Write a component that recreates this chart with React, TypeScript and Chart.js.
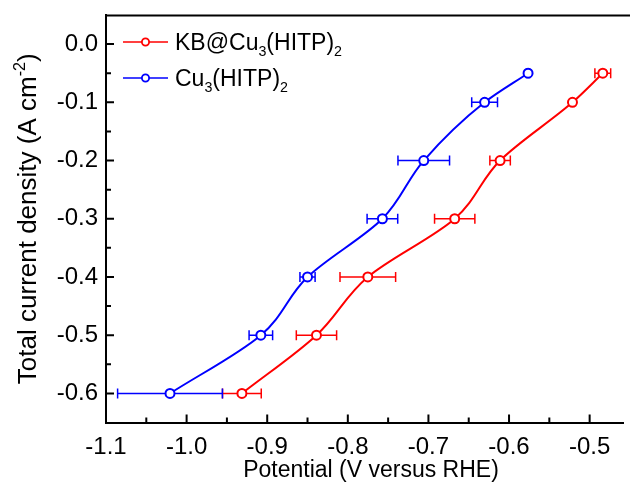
import React, { useEffect, useRef } from "react";
import { Chart, registerables } from "chart.js";

Chart.register(...registerables);

// ---- data ----
const currentDensity = [-0.05, -0.1, -0.2, -0.3, -0.4, -0.5, -0.6];
const kbPotential = [-0.4837, -0.5213, -0.6111, -0.6674, -0.7752, -0.8389, -0.9314];
const kbPotentialErr = [0.0098, 0, 0.0127, 0.025, 0.0345, 0.025, 0.024];
const cuPotential = [-0.5764, -0.6303, -0.7058, -0.7571, -0.85, -0.9079, -1.0206];
const cuPotentialErr = [0.002, 0.016, 0.032, 0.019, 0.0094, 0.0146, 0.065];

const xTickValues = [-1.1, -1.0, -0.9, -0.8, -0.7, -0.6, -0.5];
const xMinorTickValues = [-1.05, -0.95, -0.85, -0.75, -0.65, -0.55];
const yTickValues = [0.0, -0.1, -0.2, -0.3, -0.4, -0.5, -0.6];
const yMinorTickValues = [-0.05, -0.15, -0.25, -0.35, -0.45, -0.55];

const seriesNames = [
  [{ t: "KB@Cu" }, { t: "3", sub: true }, { t: "(HITP)" }, { t: "2", sub: true }],
  [{ t: "Cu" }, { t: "3", sub: true }, { t: "(HITP)" }, { t: "2", sub: true }],
];
const seriesColors = ["#ff0000", "#0000ff"];
const xTitle = [{ t: "Potential (V versus RHE)" }];
const yTitle = [{ t: "Total current density (A cm" }, { t: "-2", sup: true }, { t: ")" }];

const FONT = '"Liberation Sans", Arial, Helvetica, sans-serif';
const TICK_FS = 24;
const LEGEND_FS = 23;
const XTITLE_FS = 23;
const YTITLE_FS = 26;

type Part = { t: string; sub?: boolean; sup?: boolean };

function richWidth(ctx: CanvasRenderingContext2D, parts: Part[], size: number) {
  let w = 0;
  for (const p of parts) {
    const s = p.sub || p.sup ? size * 0.62 : size;
    ctx.font = `${s}px ${FONT}`;
    w += ctx.measureText(p.t).width;
  }
  return w;
}

function drawRich(ctx: CanvasRenderingContext2D, parts: Part[], x: number, y: number, size: number) {
  let cx = x;
  ctx.textBaseline = "alphabetic";
  ctx.textAlign = "left";
  for (const p of parts) {
    const s = p.sub || p.sup ? size * 0.62 : size;
    ctx.font = `${s}px ${FONT}`;
    const dy = p.sub ? size * 0.27 : p.sup ? -size * 0.42 : 0;
    ctx.fillText(p.t, cx, y + dy);
    cx += ctx.measureText(p.t).width;
  }
}

const decorPlugin = {
  id: "decor",
  beforeDatasetsDraw(chart: any) {
    const { ctx, scales } = chart;
    const xs = scales.x;
    const ys = scales.y;
    ctx.save();
    const sets = [
      { xv: kbPotential, err: kbPotentialErr, color: seriesColors[0] },
      { xv: cuPotential, err: cuPotentialErr, color: seriesColors[1] },
    ];
    for (const s of sets) {
      ctx.strokeStyle = s.color;
      ctx.lineWidth = 1.5;
      s.xv.forEach((xv, i) => {
        const e = s.err[i];
        if (!e) return;
        const py = ys.getPixelForValue(currentDensity[i]);
        const x1 = xs.getPixelForValue(xv - e);
        const x2 = xs.getPixelForValue(xv + e);
        ctx.beginPath();
        ctx.moveTo(x1, py);
        ctx.lineTo(x2, py);
        ctx.moveTo(x1, py - 5);
        ctx.lineTo(x1, py + 5);
        ctx.moveTo(x2, py - 5);
        ctx.lineTo(x2, py + 5);
        ctx.stroke();
      });
    }
    ctx.restore();
  },
  afterDraw(chart: any) {
    const { ctx, scales } = chart;
    const xs = scales.x;
    const ys = scales.y;
    const left = xs.left;
    const right = xs.right;
    const top = ys.top;
    const bottom = ys.bottom;
    ctx.save();
    // frame top line
    ctx.strokeStyle = "#000000";
    ctx.lineWidth = 2;
    ctx.beginPath();
    ctx.moveTo(left - 1, top + 0.5);
    ctx.lineTo(630, top + 0.5);
    ctx.stroke();
    // inward ticks
    ctx.beginPath();
    xTickValues.forEach((v) => {
      const px = xs.getPixelForValue(v);
      ctx.moveTo(px, bottom);
      ctx.lineTo(px, bottom - 8);
    });
    xMinorTickValues.forEach((v) => {
      const px = xs.getPixelForValue(v);
      ctx.moveTo(px, bottom);
      ctx.lineTo(px, bottom - 5);
    });
    yTickValues.forEach((v) => {
      const py = ys.getPixelForValue(v);
      ctx.moveTo(left, py);
      ctx.lineTo(left + 8, py);
    });
    yMinorTickValues.forEach((v) => {
      const py = ys.getPixelForValue(v);
      ctx.moveTo(left, py);
      ctx.lineTo(left + 5, py);
    });
    ctx.stroke();

    // legend
    const legendY = [42, 78];
    seriesNames.forEach((parts, i) => {
      const y = legendY[i];
      ctx.strokeStyle = seriesColors[i];
      ctx.lineWidth = 1.5;
      ctx.beginPath();
      ctx.moveTo(123, y);
      ctx.lineTo(168, y);
      ctx.stroke();
      ctx.beginPath();
      ctx.arc(145.5, y, 3.6, 0, Math.PI * 2);
      ctx.fillStyle = "#fff";
      ctx.fill();
      ctx.lineWidth = 1.8;
      ctx.stroke();
      ctx.fillStyle = "#000";
      drawRich(ctx, parts as Part[], 175, y + 8, LEGEND_FS);
    });

    // axis titles
    ctx.fillStyle = "#000";
    const xw = richWidth(ctx, xTitle, XTITLE_FS);
    drawRich(ctx, xTitle, 371 - xw / 2, 477, XTITLE_FS);
    const yw = richWidth(ctx, yTitle as Part[], YTITLE_FS);
    ctx.translate(36, (top + bottom) / 2);
    ctx.rotate(-Math.PI / 2);
    drawRich(ctx, yTitle as Part[], -yw / 2, 0, YTITLE_FS);
    ctx.restore();
  },
};

export default function App() {
  const ref = useRef<HTMLCanvasElement | null>(null);
  useEffect(() => {
    document.body.style.margin = "0";
    const canvas = ref.current;
    if (!canvas) return;
    const mk = (xv: number[]) => xv.map((x, i) => ({ x, y: currentDensity[i] }));
    const ds = (label: string, xv: number[], color: string) => ({
      label,
      data: mk(xv),
      borderColor: color,
      backgroundColor: "#ffffff",
      borderWidth: 2,
      pointRadius: 4.5,
      pointBorderWidth: 2,
      pointBackgroundColor: "#ffffff",
      pointBorderColor: color,
      cubicInterpolationMode: "monotone",
      fill: false,
    });
    const chart = new Chart(canvas, {
      type: "line",
      data: {
        datasets: [
          ds("KB@Cu3(HITP)2", kbPotential, seriesColors[0]),
          ds("Cu3(HITP)2", cuPotential, seriesColors[1]),
        ],
      },
      options: {
        indexAxis: "y",
        animation: false,
        responsive: false,
        events: [],
        layout: { padding: { top: 15, left: 0, right: 0, bottom: 0 } },
        plugins: { legend: { display: false }, tooltip: { enabled: false }, title: { display: false } },
        scales: {
          x: {
            type: "linear",
            position: "bottom",
            min: -1.1,
            max: -0.458,
            grid: { display: false, drawTicks: false },
            border: { display: true, color: "#000", width: 2 },
            ticks: {
              color: "#000",
              font: { family: FONT, size: TICK_FS },
              padding: 10,
              maxRotation: 0,
              autoSkip: false,
              callback: (v: any) => Number(v).toFixed(1),
            },
            afterBuildTicks: (s: any) => {
              s.ticks = xTickValues.map((value) => ({ value }));
            },
            afterFit: (s: any) => {
              s.height = 59.5;
              s.paddingLeft = 0;
              s.paddingRight = 0;
            },
          },
          y: {
            type: "linear",
            position: "left",
            min: -0.65,
            max: 0.05,
            grid: { display: false, drawTicks: false },
            border: { display: true, color: "#000", width: 2 },
            ticks: {
              color: "#000",
              font: { family: FONT, size: TICK_FS },
              padding: 8,
              autoSkip: false,
              callback: (v: any) => Number(v).toFixed(1),
            },
            afterBuildTicks: (s: any) => {
              s.ticks = yTickValues.map((value) => ({ value }));
            },
            afterFit: (s: any) => {
              s.width = 106;
              s.paddingTop = 0;
              s.paddingBottom = 0;
            },
          },
        },
      },
      plugins: [decorPlugin],
    } as any);
    return () => chart.destroy();
  }, []);
  return (
    <div style={{ position: "absolute", left: 0, top: 0, width: 630, height: 482 }}>
      <canvas ref={ref} width={630} height={482} style={{ display: "block" }} />
    </div>
  );
}
